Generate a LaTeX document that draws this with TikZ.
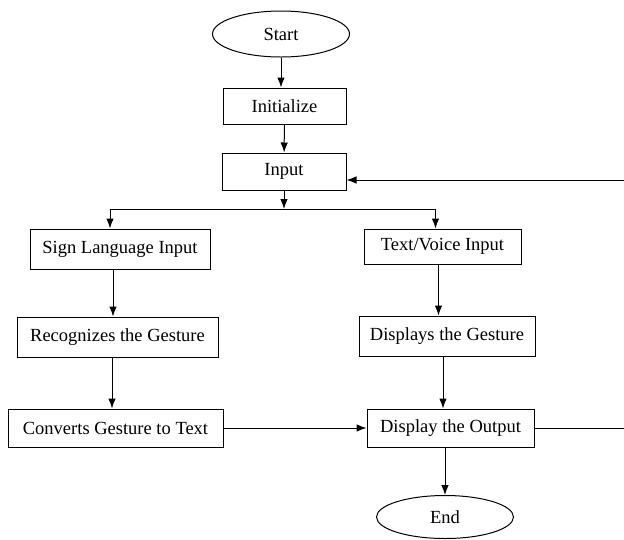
\documentclass[tikz,border=0pt]{standalone}
\usepackage{fontspec}
\setmainfont{Liberation Serif}
\usetikzlibrary{arrows.meta,shapes.geometric}
\tikzset{
    box/.style={draw, rectangle, inner sep=0pt, minimum height=38pt, font=\fontsize{18.5}{21}\selectfont},
    term/.style={draw, ellipse, inner sep=0pt, minimum width=137pt, minimum height=46pt, font=\fontsize{18.5}{21}\selectfont},
    arr/.style={-{Latex[length=10pt,width=7.5pt]}},
}

\begin{document}
\begin{tikzpicture}[x=1pt,y=-1pt,line width=1pt]
    \useasboundingbox (0,0) rectangle (624,539);
    \node[term] (start) at (281,34) {Start};
    \node[box, minimum width=123pt, minimum height=36pt] (init) at (284.5,106) {Initialize};
    \node[box, minimum width=124pt, minimum height=37pt] (inp) at (284,171.5) {Input};
    \node[box, minimum width=180pt, minimum height=40pt] (sign) at (120,249) {Sign Language Input};
    \node[box, minimum width=157pt, minimum height=35pt] (tv) at (442.5,246.5) {Text/Voice Input};
    \node[box, minimum width=201pt, minimum height=40pt] (recog) at (117.5,337) {Recognizes the Gesture};
    \node[box, minimum width=176pt, minimum height=40pt] (dispg) at (447,336) {Displays the Gesture};
    \node[box, minimum width=215pt] (conv) at (115.5,428) {Converts Gesture to Text};
    \node[box, minimum width=167pt] (outp) at (450.5,428) {Display the Output};
    \node[term, minimum height=43pt] (end) at (445,517) {End};
    % main line
    \draw[arr] (start.south) -- (start.south |- init.north);
    \draw[arr] (init) -- (inp);
    \draw[arr] (inp.south) -- (inp.south |- 0,209) coordinate (split);
    \draw[arr] (split) -| ([xshift=-10pt]sign.north);
    \draw[arr] (split) -| ([xshift=-7pt]tv.north);
    % left branch
    \draw[arr] ([xshift=-7pt]sign.south) -- ([xshift=-7pt]sign.south |- recog.north);
    \draw[arr] ([xshift=-5.5pt]recog.south) -- ([xshift=-5.5pt]recog.south |- conv.north);
    \draw[arr] (conv.east) -- (outp.west);
    % right branch
    \draw[arr] ([xshift=-4pt]tv.south) -- ([xshift=-4pt]tv.south |- dispg.north);
    \draw[arr] ([xshift=-4pt]dispg.south) -- ([xshift=-4pt]dispg.south |- outp.north);
    \draw[arr] (outp.south -| end) -- (end);
    % back to input
    \draw[arr] (outp.east) -- ++(110,0) |- ([yshift=-8.5pt]inp.east);
\end{tikzpicture}
\end{document}
